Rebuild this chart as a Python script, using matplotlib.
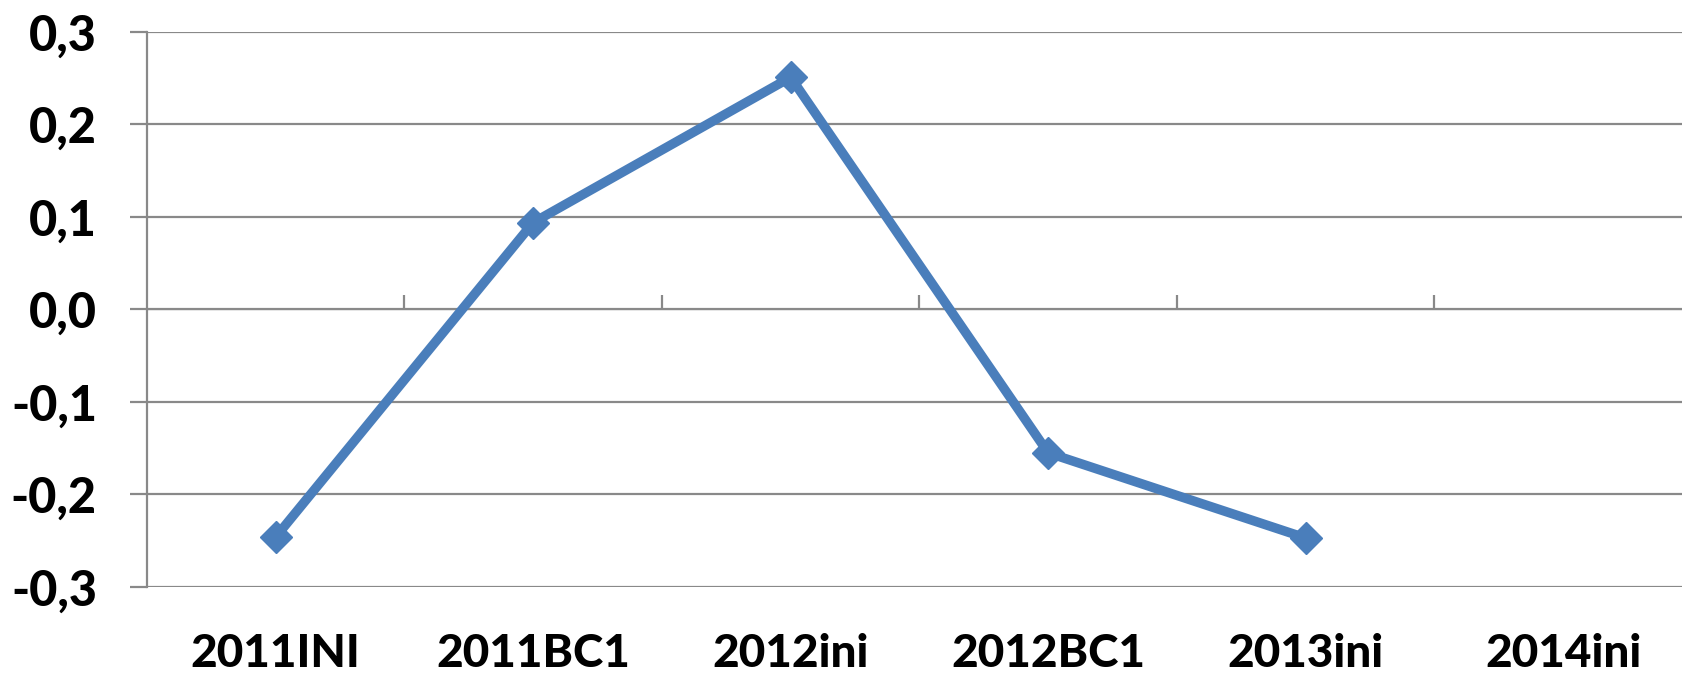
import matplotlib.pyplot as plt
import numpy as np

categories = ["2011INI", "2011BC1", "2012ini", "2012BC1", "2013ini", "2014ini"]
values = [-0.246, 0.094, 0.251, -0.155, -0.247, np.nan]
yticks = [-0.3, -0.2, -0.1, 0.0, 0.1, 0.2, 0.3]
ylabels = ["-0,3", "-0,2", "-0,1", "0,0", "0,1", "0,2", "0,3"]

plt.rcParams['font.family'] = ['Lato', 'DejaVu Sans']

grid_col = '#898989'
line_col = '#4A7EBB'

fig = plt.figure(figsize=(16.83, 6.79), dpi=100)
ax = fig.add_axes([0.0873, 0.1355, 0.918, 0.8174])

x = np.arange(len(categories)) + 0.5
ax.plot(x, values, color=line_col, lw=6.8, marker='D', ms=16, zorder=3)

ax.set_xlim(0, len(categories))
ax.set_ylim(-0.3, 0.3)
ax.set_yticks(yticks)
ax.set_yticklabels(ylabels, fontsize=35, fontweight='black')
ax.yaxis.grid(True, color=grid_col, lw=1.6)
ax.tick_params(axis='y', length=12, width=1.6, color=grid_col, pad=24)

ax.set_xticks(x)
ax.set_xticklabels(categories, fontsize=33, fontweight='black')
ax.tick_params(axis='x', length=0, pad=33)

for s in ['top', 'right', 'bottom']:
    ax.spines[s].set_visible(False)
ax.spines['left'].set_color(grid_col)
ax.spines['left'].set_linewidth(1.6)

# category ticks on the zero line
sec = ax.secondary_xaxis(0.5)
sec.set_xticks(np.arange(1, len(categories)))
sec.set_xticklabels([])
sec.tick_params(length=10, width=1.6, color=grid_col)
sec.spines['bottom'].set_color(grid_col)
sec.spines['bottom'].set_linewidth(1.6)

fig.savefig('out.png', dpi=100)
